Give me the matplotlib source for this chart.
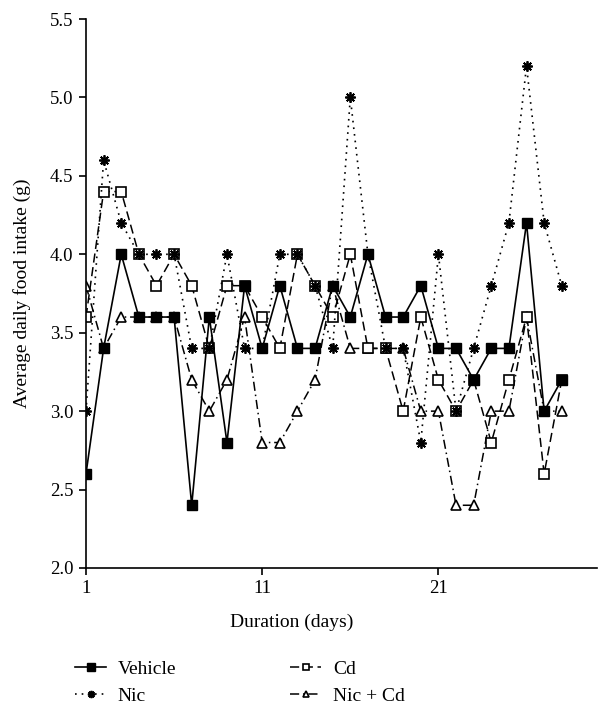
import matplotlib
matplotlib.use("Agg")
import matplotlib.pyplot as plt

# Values (day 1 .. 28)
days = list(range(1, 29))
vehicle = [2.6, 3.4, 4.0, 3.6, 3.6, 3.6, 2.4, 3.6, 2.8, 3.8, 3.4, 3.8, 3.4, 3.4,
           3.8, 3.6, 4.0, 3.6, 3.6, 3.8, 3.4, 3.4, 3.2, 3.4, 3.4, 4.2, 3.0, 3.2]
cd = [3.6, 4.4, 4.4, 4.0, 3.8, 4.0, 3.8, 3.4, 3.8, 3.8, 3.6, 3.4, 4.0, 3.8,
      3.6, 4.0, 3.4, 3.4, 3.0, 3.6, 3.2, 3.0, 3.2, 2.8, 3.2, 3.6, 2.6, 3.2]
nic = [3.0, 4.6, 4.2, 4.0, 4.0, 4.0, 3.4, 3.4, 4.0, 3.4, 3.4, 4.0, 4.0, 3.8,
       3.4, 5.0, 4.0, 3.4, 3.4, 2.8, 4.0, 3.0, 3.4, 3.8, 4.2, 5.2, 4.2, 3.8]
nic_cd = [3.8, 3.4, 3.6, 3.6, 3.6, 3.6, 3.2, 3.0, 3.2, 3.6, 2.8, 2.8, 3.0, 3.2,
          3.8, 3.4, 3.4, 3.4, 3.4, 3.0, 3.0, 2.4, 2.4, 3.0, 3.0, 3.6, 3.0, 3.0]

x_ticks = [1, 11, 21]
y_ticks = [2.0, 2.5, 3.0, 3.5, 4.0, 4.5, 5.0, 5.5]

plt.rcParams['font.family'] = ['Liberation Serif', 'DejaVu Serif']

fig = plt.figure(figsize=(6.12, 7.15), dpi=100)
ax = fig.add_axes([0.1405, 0.2056, 0.835, 0.7678])

# draw order: Nic + Cd, Cd, Nic, Vehicle (vehicle squares end up on top)
l4, = ax.plot(days, nic_cd, color='black', lw=1.1, ls=(0, (6, 2.5, 1, 2.5)),
              marker='^', ms=7, mfc='white', mec='black', mew=1.2, label='Nic + Cd')
l2, = ax.plot(days, cd, color='black', lw=1.1, ls=(0, (6, 3)),
              marker='s', ms=7, mfc='white', mec='black', mew=1.2, label='Cd')
l3, = ax.plot(days, nic, color='black', lw=1.2, ls=(0, (1, 3)),
              marker=(8, 2, 0), ms=7.5, mec='black', mew=1.3, label='Nic')
l1, = ax.plot(days, vehicle, color='black', lw=1.2, ls='-',
              marker='s', ms=7.5, mfc='black', mec='black', label='Vehicle')

ax.set_xlim(1, 30)
ax.set_ylim(2.0, 5.5)
ax.set_xticks(x_ticks)
ax.set_yticks(y_ticks)
ax.set_yticklabels([f"{v:.1f}" for v in y_ticks])
ax.spines['top'].set_visible(False)
ax.spines['right'].set_visible(False)
for s in ['left', 'bottom']:
    ax.spines[s].set_linewidth(1.2)
ax.tick_params(direction='out', length=5, width=1.2, labelsize=13.5, pad=4)

ax.set_xlabel('Duration (days)', fontsize=14)
ax.xaxis.set_label_coords(0.403, -0.083)
ax.set_ylabel('Average daily food intake (g)', fontsize=14, labelpad=14)

fig.legend(handles=[l1, l3, l2, l4], labels=['Vehicle', 'Nic', 'Cd', 'Nic + Cd'],
           ncol=2, loc='lower left', bbox_to_anchor=(0.094, -0.01), frameon=False,
           fontsize=14, handlelength=1.6, handletextpad=0.6, columnspacing=5.85,
           labelspacing=0.45, markerscale=0.7)

fig.savefig('out.png', dpi=100)
